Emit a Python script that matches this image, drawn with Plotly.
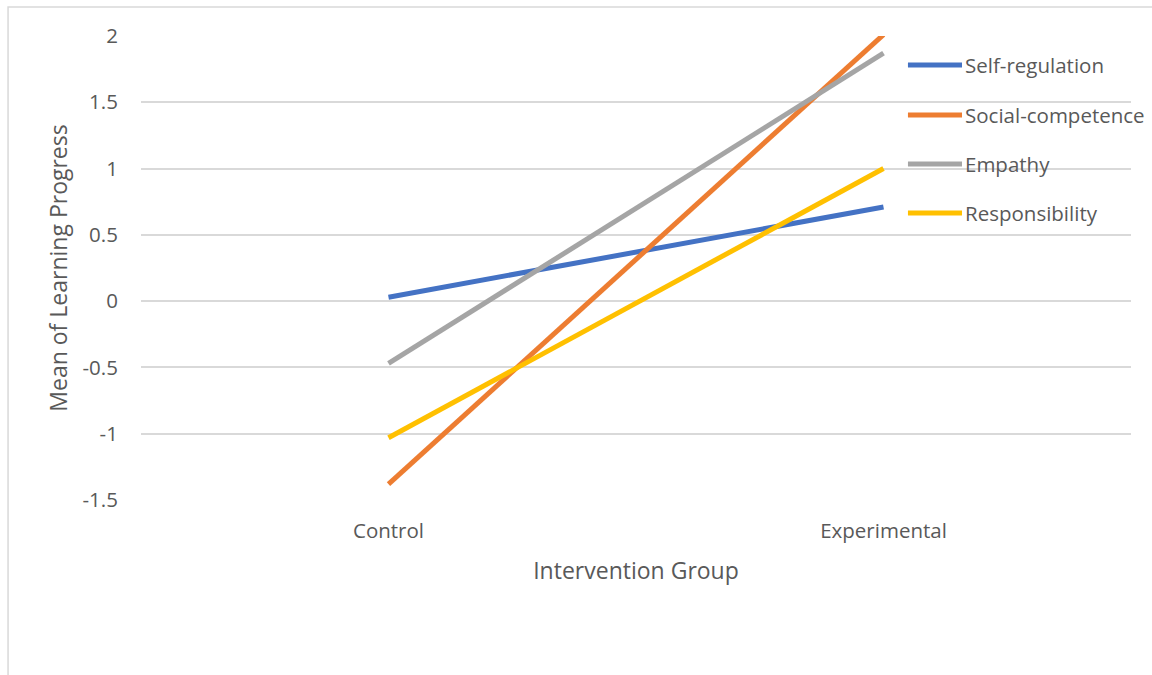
import plotly.graph_objects as go

categories = ["Control", "Experimental"]
series_names = ["Self-regulation", "Social-competence", "Empathy", "Responsibility"]
self_regulation = [0.03, 0.71]
social_competence = [-1.38, 2.01]
empathy = [-0.47, 1.87]
responsibility = [-1.03, 1.0]
y_ticks = [-1.5, -1, -0.5, 0, 0.5, 1, 1.5, 2]
y_tick_labels = ["-1.5", "-1", "-0.5", "0", "0.5", "1", "1.5", "2"]

colors = ["#4472C4", "#ED7D31", "#A5A5A5", "#FFC000"]
values = [self_regulation, social_competence, empathy, responsibility]

FONT = "Open Sans"
TXT = "#595959"

fig = go.Figure()
for name, vals, c in zip(series_names, values, colors):
    fig.add_trace(go.Scatter(x=[0, 1], y=vals, mode="lines", name=name,
                             line=dict(color=c, width=5), showlegend=False))

# manual legend
leg_y = [0.9375, 0.8298, 0.7242, 0.6186]
for name, c, yy in zip(series_names, colors, leg_y):
    fig.add_shape(type="line", xref="paper", yref="paper", x0=0.7747, x1=0.8293,
                  y0=yy, y1=yy, line=dict(color=c, width=5))
    fig.add_annotation(xref="paper", yref="paper", x=0.8303, y=yy, text=name,
                       showarrow=False, xanchor="left", yanchor="middle",
                       font=dict(family=FONT, size=20.5, color=TXT))

# outer border
fig.add_shape(type="rect", xref="paper", yref="paper", x0=-0.1343, x1=1.2,
              y0=-0.6, y1=1.0625, line=dict(color="#D9D9D9", width=1.5), layer="below")

fig.update_layout(
    width=1152, height=675,
    margin=dict(l=141, r=21, t=36, b=175),
    plot_bgcolor="white", paper_bgcolor="white",
    font=dict(family=FONT, color=TXT),
)
fig.update_xaxes(range=[-0.5, 1.5], tickvals=[0, 1], ticktext=categories,
                 showgrid=False, zeroline=False, showline=False,
                 tickfont=dict(size=20.5, color=TXT), ticks="outside", ticklen=12,
                 tickcolor="rgba(0,0,0,0)",
                 title=dict(text="Intervention Group", font=dict(size=23, color=TXT), standoff=20))
fig.update_yaxes(range=[-1.5, 2], tickvals=y_ticks, ticktext=y_tick_labels,
                 showgrid=True, gridcolor="#D9D9D9", gridwidth=1.5, zeroline=False,
                 showline=False, tickfont=dict(size=20.5, color=TXT),
                 ticks="outside", ticklen=18, tickcolor="rgba(0,0,0,0)",
                 title=dict(text="Mean of Learning Progress", font=dict(size=23, color=TXT), standoff=8))

fig.write_html("out.html")
